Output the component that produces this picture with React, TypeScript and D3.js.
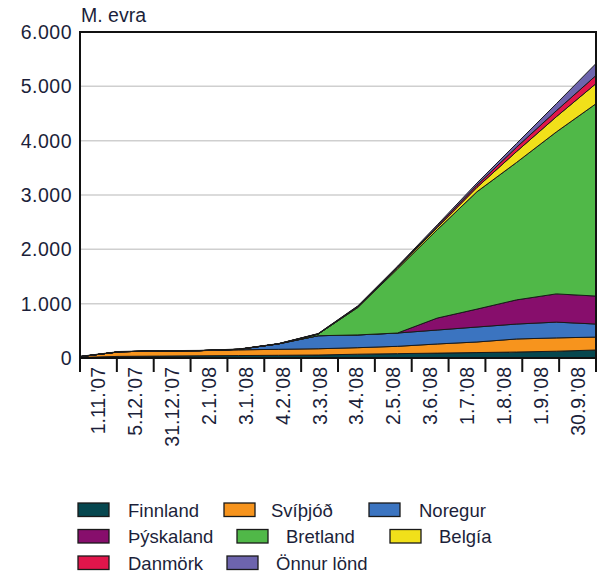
import React from "react";
import * as d3 from "d3";

const dates = ["1.11.'07", "5.12.'07", "31.12.'07", "2.1.'08", "3.1.'08", "4.2.'08", "3.3.'08", "3.4.'08", "2.5.'08", "3.6.'08", "1.7.'08", "1.8.'08", "1.9.'08", "30.9.'08"];
const finnland = [10, 30, 35, 40, 45, 50, 55, 70, 80, 90, 100, 110, 125, 147];
const svithjod = [15, 85, 95, 95, 105, 110, 115, 120, 135, 168, 195, 240, 245, 238];
const noregur = [0, 0, 0, 0, 10, 100, 240, 235, 245, 257, 275, 275, 290, 240];
const thyskaland = [0, 0, 0, 0, 0, 0, 0, 0, 0, 220, 330, 445, 520, 515];
const bretland = [0, 0, 0, 0, 0, 0, 30, 505, 1180, 1625, 2160, 2530, 2980, 3540];
const belgia = [0, 0, 0, 0, 0, 0, 0, 10, 20, 40, 80, 200, 280, 370];
const danmork = [0, 0, 0, 0, 0, 0, 5, 10, 15, 25, 40, 80, 110, 150];
const onnur = [5, 5, 5, 5, 5, 5, 5, 10, 15, 25, 40, 70, 130, 220];
const yTicks = [0, 1000, 2000, 3000, 4000, 5000, 6000];
const seriesNames = ["Finnland", "Svíþjóð", "Noregur", "Þýskaland", "Bretland", "Belgía", "Danmörk", "Önnur lönd"];
const seriesValues = [finnland, svithjod, noregur, thyskaland, bretland, belgia, danmork, onnur];
const colors = ["#06474f", "#f7941d", "#3b74c0", "#870e6c", "#50b848", "#f1e01a", "#e1154b", "#6d64ad"];

// legend layout (positions only)
const legendPos = [
  { sx: 78, tx: 128, y: 503 },
  { sx: 224, tx: 271, y: 503 },
  { sx: 369, tx: 419, y: 503 },
  { sx: 78, tx: 128, y: 529.5 },
  { sx: 237, tx: 286, y: 529.5 },
  { sx: 390, tx: 439, y: 529.5 },
  { sx: 78, tx: 128, y: 556 },
  { sx: 227, tx: 276, y: 556 },
];

const W = 606, H = 573;
const L = 80, R = 596, T = 32, B = 358;
const FONT = "'Liberation Sans', Arial, sans-serif";
const TXT = "#1c1f3a";

export default function App() {
  const table = dates.map((d, i) => {
    const row: any = { date: d };
    seriesNames.forEach((n, k) => (row[n] = seriesValues[k][i]));
    return row;
  });
  const stacked = d3.stack().keys(seriesNames)(table);
  const xp = d3.scalePoint<string>().domain(dates).range([L, R]).padding(0);
  const xb = d3.scaleBand<string>().domain(dates).range([L, R]).padding(0);
  const y = d3.scaleLinear().domain([0, 6000]).range([B, T]);
  const area = d3
    .area<any>()
    .x((d: any) => xp(d.data.date) as number)
    .y0((d: any) => y(d[0]))
    .y1((d: any) => y(d[1]));
  const fmt = (v: number) => (v === 0 ? "0" : d3.format(",")(v).replace(/,/g, "."));

  return (
    <svg width={W} height={H} style={{ position: "absolute", left: 0, top: 0, background: "#fff" }} fontFamily={FONT}>
      <rect x={0} y={0} width={W} height={H} fill="#fff" />
      {yTicks.filter((t) => t > 0 && t < 6000).map((t) => (
        <line key={"g" + t} x1={L} x2={R} y1={y(t)} y2={y(t)} stroke="#cfcfcf" strokeWidth={1.5} />
      ))}
      {stacked.map((s, k) => (
        <path key={s.key} d={area(s as any) || ""} fill={colors[k]} stroke="#1a1a1a" strokeWidth={1} strokeLinejoin="round" />
      ))}
      <rect x={L} y={T} width={R - L} height={B - T} fill="none" stroke="#111" strokeWidth={2} />
      {yTicks.map((t) => (
        <text key={"y" + t} x={72} y={y(t) + 7} textAnchor="end" fontSize={19.5} letterSpacing={0.5} fill={TXT}>
          {fmt(t)}
        </text>
      ))}
      <text x={81} y={21.5} fontSize={19.5} fill={TXT}>M. evra</text>
      {dates.map((d) => (
        <line key={"t" + d} x1={xb(d) as number} x2={xb(d) as number} y1={B} y2={B + 14} stroke="#111" strokeWidth={2} />
      ))}
      <line x1={R} x2={R} y1={B} y2={B + 14} stroke="#111" strokeWidth={2} />
      {dates.map((d) => {
        const cx = (xb(d) as number) + xb.bandwidth() / 2 + 7;
        return (
          <text key={"xl" + d} transform={`translate(${cx},367) rotate(-90)`} textAnchor="end" fontSize={19.5} fill={TXT}>
            {d}
          </text>
        );
      })}
      {seriesNames.map((n, k) => (
        <g key={"lg" + n}>
          <rect x={legendPos[k].sx} y={legendPos[k].y} width={31} height={13.5} fill={colors[k]} stroke="#1a1a1a" strokeWidth={1.3} />
          <text x={legendPos[k].tx} y={legendPos[k].y + 13.5} fontSize={18.5} fill={TXT}>
            {n}
          </text>
        </g>
      ))}
    </svg>
  );
}
